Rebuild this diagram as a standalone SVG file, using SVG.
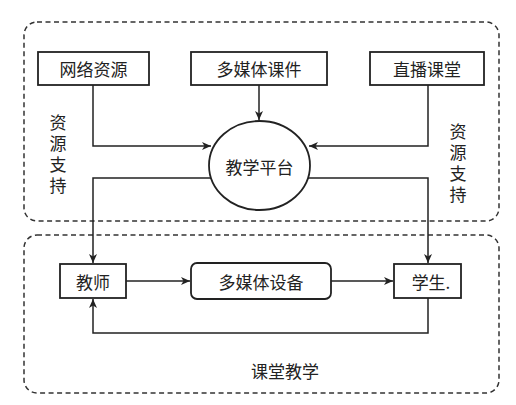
<svg xmlns="http://www.w3.org/2000/svg" width="516" height="405" viewBox="0 0 516 405">
<defs>
<style>
.zone{fill:none;stroke:#333;stroke-width:1.5;stroke-dasharray:5,3.5}
.box{fill:#fff;stroke:#222;stroke-width:1.8}
.ln{fill:none;stroke:#222;stroke-width:1.5}
text{font-family:"Noto Sans CJK SC","Liberation Sans",sans-serif;font-size:17px;fill:#222;text-anchor:middle;dominant-baseline:central}
.vt{writing-mode:vertical-rl;text-anchor:start;letter-spacing:4px}
</style>
<marker id="ah" markerWidth="10" markerHeight="10" refX="9" refY="4" orient="auto" markerUnits="userSpaceOnUse">
<path d="M0,0 L9,4 L0,8 L2.5,4 z" fill="#222"/>
</marker>
</defs>
<rect width="516" height="405" fill="#fff"/>
<g id="zone-support">
<rect class="zone" x="24" y="22" width="475" height="199" rx="13"/>
<text class="vt" x="58" y="114">资源支持</text>
<text class="vt" x="458" y="123">资源支持</text>
</g>
<g id="zone-class">
<rect class="zone" x="24" y="235" width="475" height="158" rx="13"/>
<text x="285" y="370">课堂教学</text>
</g>
<g id="connectors">
<polyline class="ln" points="93,85 93,146 211,146" marker-end="url(#ah)"/>
<line class="ln" x1="259" y1="85" x2="259" y2="120" marker-end="url(#ah)"/>
<polyline class="ln" points="428,85 428,146 309,146" marker-end="url(#ah)"/>
<polyline class="ln" points="213,178 93,178 93,263" marker-end="url(#ah)"/>
<polyline class="ln" points="306,178 428,178 428,263" marker-end="url(#ah)"/>
<line class="ln" x1="126" y1="281" x2="190" y2="281" marker-end="url(#ah)"/>
<line class="ln" x1="331" y1="281" x2="393" y2="281" marker-end="url(#ah)"/>
<polyline class="ln" points="428,298 428,333 93,333 93,299" marker-end="url(#ah)"/>
</g>
<g id="n-net"><rect class="box" x="38" y="52" width="111" height="33"/><text x="93.5" y="68.5">网络资源</text></g>
<g id="n-courseware"><rect class="box" x="191" y="52" width="136" height="33"/><text x="259" y="68.5">多媒体课件</text></g>
<g id="n-live"><rect class="box" x="370" y="52" width="114" height="33"/><text x="427" y="68.5">直播课堂</text></g>
<g id="n-platform"><ellipse class="box" cx="259.5" cy="165.5" rx="50.5" ry="44.5"/><text x="259.5" y="166">教学平台</text></g>
<g id="n-teacher"><rect class="box" x="60" y="264" width="66" height="34"/><text x="93" y="281">教师</text></g>
<g id="n-device"><rect class="box" x="191" y="263" width="140" height="36" rx="6"/><text x="261" y="281">多媒体设备</text></g>
<g id="n-student"><rect class="box" x="394" y="264" width="67" height="34"/><text x="431" y="281">学生.</text></g>
</svg>
